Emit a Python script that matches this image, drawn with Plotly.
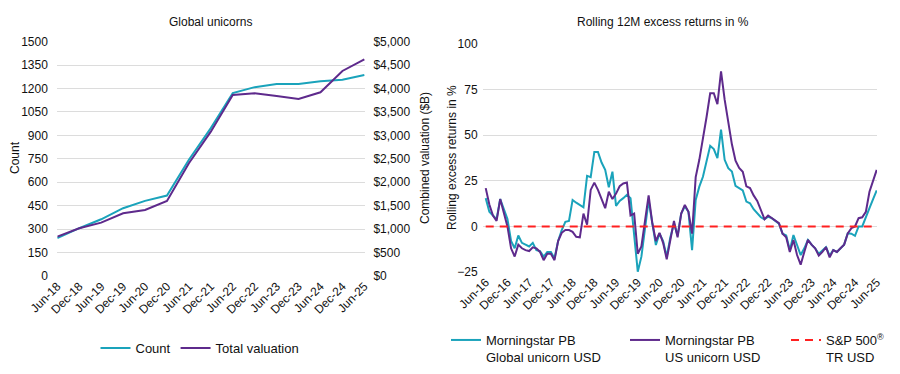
import plotly.graph_objects as go
import pandas as pd

# ---------------- Left chart data ----------------
periods = ["Jun-18", "Dec-18", "Jun-19", "Dec-19", "Jun-20", "Dec-20", "Jun-21",
           "Dec-21", "Jun-22", "Dec-22", "Jun-23", "Dec-23", "Jun-24", "Dec-24", "Jun-25"]
count = [242, 306, 363, 434, 481, 515, 744, 947, 1171, 1209, 1229, 1229, 1246, 1256, 1287]
valuation = [839, 1018, 1138, 1338, 1408, 1600, 2405, 3080, 3863, 3899, 3841, 3777, 3920, 4375, 4624]

# ---------------- Right chart data ----------------
months = list(pd.date_range("2016-06-01", periods=109, freq="MS").strftime("%b-%y"))
global_unicorn = [15.5, 8, 6, 4, 15, 10, 4, -8, -12, -5, -9, -10, -11, -9, -13, -13.5,
                  -16.5, -14, -14, -17.5, -8, -2, 2.5, 3, 14.5, 13, 11.5, 10.5, 27.7, 27,
                  40.8, 40.8, 35, 31, 21.5, 30, 11.3, 14, 15.5, 17.3, 15.5, -4, -24.8, -16.6,
                  0, 14.3, 2, -10.2, -3.8, -8, -16.6, -6, 1.5, -5, 7, 11, 8, -13, 14.5, 21.8,
                  27.2, 36.5, 44.2, 42.4, 37.4, 53, 36.5, 31.9, 30.1, 22.2, 20.9, 19.7, 13.6,
                  12.7, 9.4, 7.2, 5, 3.9, 5.3, 4.5, 3, 1.5, -4, -5, -13, -4.7, -10.2, -15.7,
                  -12, -7.4, -10, -12, -15, -13, -11.4, -16, -13, -14, -12, -10, -3.8, -4,
                  -5.2, 0, 0, 4.5, 10, 15, 19.8]
us_unicorn = [21, 12, 6, 3, 15, 8, 0, -12, -16.5, -10, -12, -13, -13.5, -11.5, -12, -14,
              -18.5, -15, -15, -18.5, -8, -3.5, -2, -2, -3, -5.7, -6, 7, 1, 20, 24, 20, 15,
              10, 19, 15, 18, 22, 23.5, 24, 6, 7, -15, -11, 3, 17, 2, -8, -3.5, -9, -18, -8,
              3, -6, 7, 11.8, 8, -4, 27, 36.5, 47.5, 60, 73, 73, 67, 85, 69.5, 58, 45, 36,
              32, 30, 22, 21, 17, 14, 9, 4, 6, 4.5, 3, 1.8, -4, -6, -14, -7.5, -15.7, -21,
              -14, -7.4, -10, -12, -16, -14, -11.4, -17, -13, -14, -12, -10, -3.8, -1, 0,
              4.5, 5, 8, 19, 25, 31]
sp500 = [0] * len(months)

TEAL = "#1aa3bb"
PURPLE = "#5e2a8c"
RED = "#ff2020"
GRID = "#dcdcdc"
FONT = "Arial, Liberation Sans, sans-serif"

W, H = 900, 374
def px_x(p): return p / W
def px_y(p): return 1 - p / H

fig = go.Figure()

fig.add_trace(go.Scatter(x=periods, y=count, name="Count", mode="lines",
                         line=dict(color=TEAL, width=2), xaxis="x", yaxis="y",
                         legend="legend"))
fig.add_trace(go.Scatter(x=periods, y=valuation, name="Total valuation", mode="lines",
                         line=dict(color=PURPLE, width=2), xaxis="x", yaxis="y2",
                         legend="legend"))

fig.add_trace(go.Scatter(x=months, y=global_unicorn, name="Morningstar PB<br>Global unicorn USD",
                         mode="lines", line=dict(color=TEAL, width=2), xaxis="x2", yaxis="y3",
                         legend="legend2"))
fig.add_trace(go.Scatter(x=months, y=us_unicorn, name="Morningstar PB<br>US unicorn USD",
                         mode="lines", line=dict(color=PURPLE, width=2), xaxis="x2", yaxis="y3",
                         legend="legend3"))
fig.add_trace(go.Scatter(x=months, y=sp500, name="S&P 500<sup>®</sup><br>TR USD",
                         mode="lines", line=dict(color=RED, width=2, dash="8px,6px"),
                         xaxis="x2", yaxis="y3", legend="legend4"))

tickfont = dict(family=FONT, size=12, color="#111")
legfont = dict(family=FONT, size=13, color="#111")

def leg(xp, yp):
    return dict(orientation="h", x=px_x(xp), xanchor="left", y=px_y(yp),
                yanchor="top", valign="top", font=legfont,
                bgcolor="rgba(0,0,0,0)", itemwidth=30)

fig.update_layout(
    width=W, height=H,
    margin=dict(l=0, r=0, t=0, b=0),
    paper_bgcolor="white", plot_bgcolor="white",
    font=dict(family=FONT, size=12, color="#111"),
    xaxis=dict(domain=[px_x(57.3), px_x(365)], type="category", range=[0, 14.03],
               tickangle=-45, tickfont=tickfont, showgrid=False, showline=False,
               zeroline=False, automargin=False, anchor="y"),
    yaxis=dict(domain=[px_y(276), px_y(41.7)], range=[0, 1500], dtick=150,
               tickfont=tickfont, showgrid=True, gridcolor=GRID, gridwidth=1,
               zeroline=False, showline=False, automargin=False, anchor="x",
               ticks="outside", ticklen=6, tickcolor="rgba(0,0,0,0)"),
    yaxis2=dict(range=[0, 5000], dtick=500, tickprefix="$", tickformat=",",
                overlaying="y", side="right", anchor="x", showgrid=False,
                zeroline=False, showline=False, automargin=False, tickfont=tickfont,
                ticks="outside", ticklen=5, tickcolor="rgba(0,0,0,0)"),
    xaxis2=dict(domain=[px_x(483), px_x(877)], type="category", range=[-0.75, 108.08],
                tickvals=months[::6], tickangle=-45, tickfont=tickfont, showgrid=False,
                showline=False, zeroline=False, automargin=False, anchor="y3"),
    yaxis3=dict(domain=[px_y(272), px_y(44)], range=[-25, 100], dtick=25,
                tickfont=tickfont, showgrid=True, gridcolor=GRID, gridwidth=1,
                zeroline=False, showline=False, automargin=False, anchor="x2",
                ticks="outside", ticklen=2, tickcolor="rgba(0,0,0,0)"),
    legend=dict(orientation="h", x=px_x(200), xanchor="center", y=px_y(348),
                yanchor="middle", font=legfont, bgcolor="rgba(0,0,0,0)", itemwidth=30),
    legend2=leg(446, 325),
    legend3=leg(625, 325),
    legend4=leg(786, 325),
    showlegend=True,
    annotations=[
        dict(text="Global unicorns", x=px_x(210.5), y=px_y(22), xref="paper", yref="paper",
             showarrow=False, font=dict(family=FONT, size=12, color="#111"),
             xanchor="center", yanchor="middle"),
        dict(text="Rolling 12M excess returns in %", x=px_x(662.5), y=px_y(22), xref="paper",
             yref="paper", showarrow=False, font=dict(family=FONT, size=12, color="#111"),
             xanchor="center", yanchor="middle"),
        dict(text="Count", x=px_x(15), y=px_y(158), xref="paper", yref="paper",
             showarrow=False, textangle=-90, font=dict(family=FONT, size=12, color="#111"),
             xanchor="center", yanchor="middle"),
        dict(text="Combined valuation ($B)", x=px_x(425), y=px_y(158), xref="paper",
             yref="paper", showarrow=False, textangle=-90,
             font=dict(family=FONT, size=12, color="#111"), xanchor="center", yanchor="middle"),
        dict(text="Rolling excess returns in %", x=px_x(452), y=px_y(158), xref="paper",
             yref="paper", showarrow=False, textangle=-90,
             font=dict(family=FONT, size=12, color="#111"), xanchor="center", yanchor="middle"),
    ],
)

fig.write_html("out.html", config={"displayModeBar": False},
               post_script="document.body.style.margin='0';document.body.style.overflow='hidden';")
